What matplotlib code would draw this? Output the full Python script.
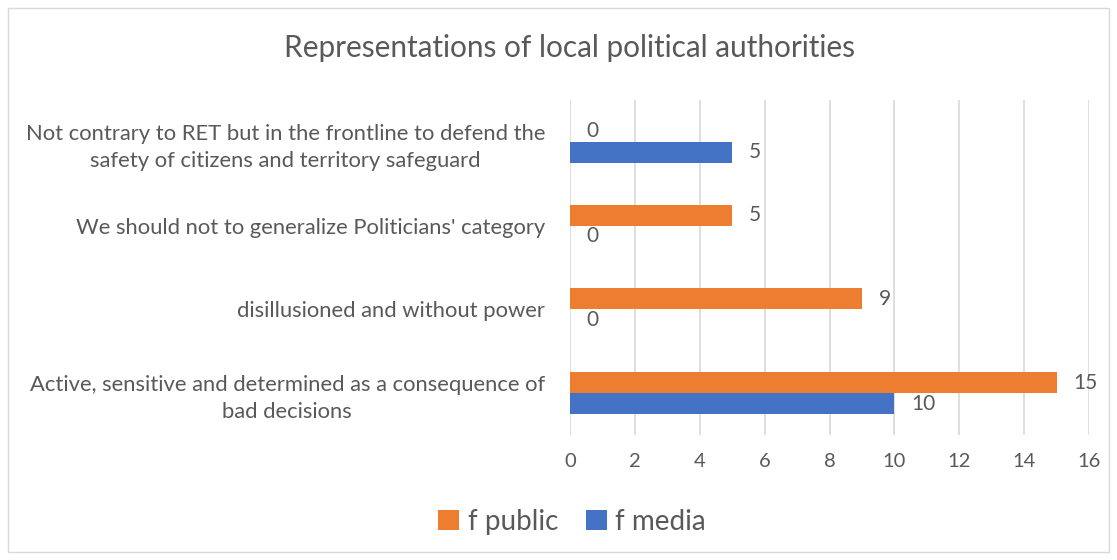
import matplotlib
matplotlib.use("Agg")
import matplotlib.pyplot as plt
from matplotlib.patches import Rectangle
import numpy as np

categories = [
    "Active, sensitive and determined as a consequence of\nbad decisions",
    "disillusioned and without power",
    "We should not to generalize Politicians' category",
    "Not contrary to RET but in the frontline to defend the\nsafety of citizens and territory safeguard",
]
f_public = [15, 9, 5, 0]
f_media = [10, 0, 0, 5]
xticks = [0, 2, 4, 6, 8, 10, 12, 14, 16]

plt.rcParams['font.family'] = ['Lato', 'DejaVu Sans']
TXT = '#595959'
ORANGE = '#ED7D31'
BLUE = '#4472C4'

fig = plt.figure(figsize=(11.17, 5.6), dpi=100)
ax = fig.add_axes([570/1117, 1-435/560, (1089-570)/1117, 335/560])

y = np.arange(len(categories))
h = 0.25
bp = ax.barh(y + h/2, f_public, height=h, color=ORANGE, label='f public')
bm = ax.barh(y - h/2, f_media, height=h, color=BLUE, label='f media')

for rects, vals in ((bp, f_public), (bm, f_media)):
    for r, v in zip(rects, vals):
        ax.annotate(str(v), (r.get_width(), r.get_y() + r.get_height()/2),
                    xytext=(12, 0), textcoords='offset points',
                    va='center', ha='left', fontsize=15, color=TXT)

ax.set_xlim(0, 16)
ax.set_ylim(-0.5, len(categories) - 0.5)
ax.set_xticks(xticks)
ax.set_yticks(y)
ax.set_yticklabels(categories, fontsize=15.8, color=TXT, linespacing=1.45)
ax.tick_params(axis='both', length=0, colors=TXT, labelsize=14.5)
ax.tick_params(axis='y', pad=18, labelsize=15.8)
ax.tick_params(axis='x', pad=13)
for lab in ax.get_yticklabels():
    lab.set_horizontalalignment('right')
    lab.set_multialignment('center')
for s in ax.spines.values():
    s.set_visible(False)
ax.grid(axis='x', color='#d9d9d9', linewidth=1.2)
ax.set_axisbelow(True)

fig.text(570/1117, 1-48/560, "Representations of local political authorities",
         fontsize=21.4, color=TXT, va='center', ha='center')

leg = fig.legend(handles=[bp, bm], labels=['f public', 'f media'], loc='center',
                 bbox_to_anchor=(572/1117, 1-522/560), ncol=2, frameon=False,
                 fontsize=20, handlelength=0.75, handleheight=0.75, handletextpad=0.3,
                 columnspacing=1.0, labelcolor=TXT)

fig.patches.append(Rectangle((8/1117, 8/560), 1 - 16/1117, 1 - 16/560, transform=fig.transFigure,
                             fill=False, edgecolor='#d9d9d9', linewidth=1))

fig.savefig('out.png', dpi=100, facecolor='white')
